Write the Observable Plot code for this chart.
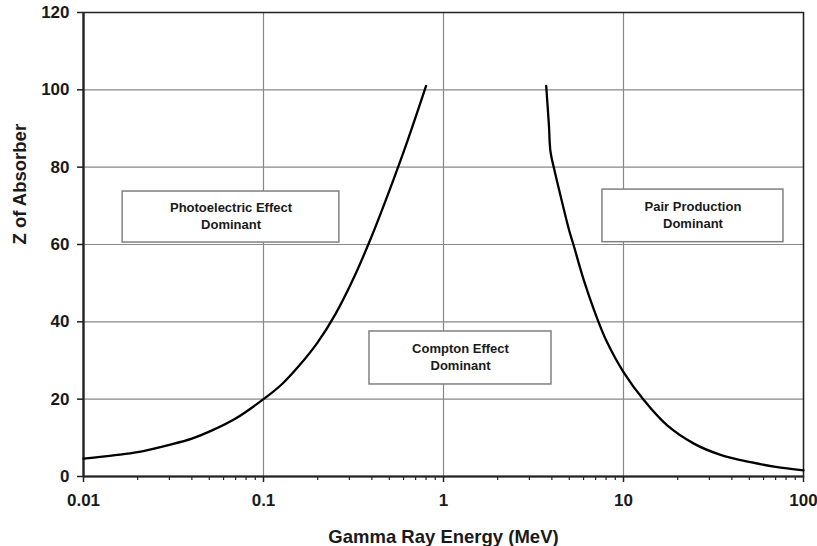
<!DOCTYPE html>
<html><head><meta charset="utf-8">
<script src="https://cdn.jsdelivr.net/npm/d3@7"></script>
<script src="https://cdn.jsdelivr.net/npm/@observablehq/plot@0.6"></script>
<style>body{margin:0;background:#fff} svg{font-family:"Liberation Sans",Arial,sans-serif}</style>
</head><body><div id="chart"></div>
<script>
// Photoelectric / Compton boundary
const photoEnergy = [0.01, 0.015, 0.02, 0.03, 0.04, 0.05, 0.07, 0.1, 0.126, 0.158, 0.2, 0.251, 0.316, 0.398, 0.501, 0.631, 0.8];
const photoZ      = [4.6, 5.5, 6.3, 8.2, 9.8, 11.6, 15.0, 20, 23.8, 28.7, 34.7, 42, 51.2, 62, 74, 86.8, 101];
// Compton / Pair production boundary
const pairEnergy = [3.72, 3.85, 3.93, 4.12, 4.5, 5, 5.27, 6, 7.26, 8.11, 10, 13, 17.5, 24.6, 34.6, 50.8, 70, 100];
const pairZ      = [101, 91, 84, 79.5, 72, 63.5, 60, 51, 40, 34.7, 27, 19.7, 13.2, 8.5, 5.6, 3.7, 2.5, 1.6];

const regionLabels = ["Photoelectric Effect\nDominant", "Compton Effect\nDominant", "Pair Production\nDominant"];
const regionE1 = [0.0165, 0.388, 7.64];
const regionE2 = [0.264, 3.98, 77.4];
const regionZ1 = [60.5, 23.8, 60.6];
const regionZ2 = [73.7, 37.5, 74.2];

const xTicks = [0.01, 0.1, 1, 10, 100];
const xTickLabels = ["0.01", "0.1", "1", "10", "100"];
const xMinorTicks = [];
for (const d of [0.01, 0.1, 1, 10]) for (const m of [2,3,4,5,6,7,8,9]) xMinorTicks.push(d * m);
const yTicks = [0, 20, 40, 60, 80, 100, 120];
const xTitle = "Gamma Ray Energy (MeV)";
const yTitle = "Z of Absorber";

const photo = photoEnergy.map((e, i) => ({e, z: photoZ[i]}));
const pair = pairEnergy.map((e, i) => ({e, z: pairZ[i]}));
const idx = regionLabels.map((_, i) => i);

const chart = Plot.plot({
  width: 817, height: 546,
  marginLeft: 83, marginRight: 14, marginTop: 12, marginBottom: 70,
  x: {type: "log", domain: [0.01, 100]},
  y: {domain: [0, 120]},
  style: {fontFamily: "'Liberation Sans', Arial, sans-serif", fontSize: "17px", fontWeight: "bold", color: "#1a1a1a", background: "white"},
  marks: [
    Plot.gridX(xTicks, {stroke: "#888", strokeOpacity: 1, strokeWidth: 1.2}),
    Plot.gridY(yTicks, {stroke: "#888", strokeOpacity: 1, strokeWidth: 1.2}),
    Plot.rect(idx, {x1: i => regionE1[i], x2: i => regionE2[i], y1: i => regionZ1[i], y2: i => regionZ2[i], fill: "white", stroke: "#808080", strokeWidth: 1.5}),
    Plot.text(idx, {x: i => Math.sqrt(regionE1[i] * regionE2[i]), y: i => (regionZ1[i] + regionZ2[i]) / 2, text: i => regionLabels[i], fontSize: 13, fontWeight: "bold", lineHeight: 1.3, dy: -2, fill: "#1a1a1a"}),
    Plot.frame({stroke: "#222", strokeWidth: 1.5}),
    Plot.ruleX([0.01], {stroke: "#222", strokeWidth: 2.2}),
    Plot.ruleY([0], {stroke: "#222", strokeWidth: 2.2}),
    Plot.line(photo, {x: "e", y: "z", curve: "catmull-rom", stroke: "#000", strokeWidth: 2.3}),
    Plot.line(pair, {x: "e", y: "z", curve: "catmull-rom", stroke: "#000", strokeWidth: 2.3}),
    Plot.axisY(yTicks, {tickSize: 6, tickPadding: 8, label: null, stroke: "#222", strokeWidth: 1.5}),
    Plot.axisX(xTicks, {tickSize: 6, tickPadding: 11, label: null, tickFormat: d => xTickLabels[xTicks.indexOf(d)], stroke: "#222", strokeWidth: 1.5}),
    Plot.axisX(xMinorTicks, {tickSize: 4, tickFormat: () => "", label: null, stroke: "#222", strokeWidth: 1.2}),
    Plot.text([yTitle], {frameAnchor: "left", rotate: -90, dx: -63.5, fontSize: 18.5, fontWeight: "bold", lineAnchor: "middle", fill: "#1a1a1a"}),
    Plot.text([xTitle], {frameAnchor: "bottom", dy: 61, fontSize: 18.5, fontWeight: "bold", lineAnchor: "middle", fill: "#1a1a1a"})
  ]
});
document.getElementById("chart").append(chart);
</script>
</body></html>
